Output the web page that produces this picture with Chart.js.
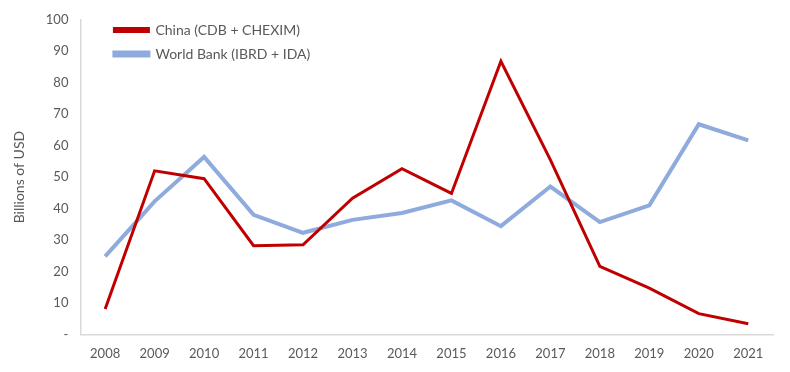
<!DOCTYPE html>
<html>
<head>
<meta charset="utf-8">
<script src="https://cdn.jsdelivr.net/npm/chart.js@4.4.0/dist/chart.umd.min.js"></script>
<style>
  html, body { margin: 0; padding: 0; background: #fff; }
  #wrap { width: 790px; height: 372px; }
</style>
</head>
<body>
<div id="wrap"><canvas id="myChart" width="790" height="372"></canvas></div>
<script>
var years = ['2008','2009','2010','2011','2012','2013','2014','2015','2016','2017','2018','2019','2020','2021']
var chinaValues = [8.1, 52, 49.5, 28.2, 28.5, 43.3, 52.7, 44.8, 86.8, 55.5, 21.6, 14.7, 6.6, 3.4]
var worldBankValues = [24.8, 42.3, 56.4, 38, 32.3, 36.4, 38.6, 42.6, 34.4, 47, 35.7, 41, 66.8, 61.7]

Chart.defaults.font.family = 'Lato, "Open Sans", sans-serif'
Chart.defaults.color = '#595959'

// nudge the legend into the upper-left corner of the plot, as in the original
var legendShift = {
    id: 'legendShift',
    afterLayout: function (c) {
        c.legend.left += 24
        c.legend.top += 13
    }
}

var chart = new Chart('myChart', {
    type: 'line',
    data: {
        labels: years,
        datasets: [{
            label: 'China (CDB + CHEXIM)',
            borderColor: '#C00000',
            backgroundColor: '#C00000',
            borderWidth: 3,
            pointRadius: 0,
            tension: 0,
            data: chinaValues
        }, {
            label: 'World Bank (IBRD + IDA)',
            borderColor: '#8FAADC',
            backgroundColor: '#8FAADC',
            borderWidth: 4,
            pointRadius: 0,
            tension: 0,
            data: worldBankValues
        }]
    },
    options: {
        responsive: false,
        animation: false,
        layout: { padding: { top: 1, right: 17, left: 7, bottom: -2 } },
        plugins: {
            tooltip: { enabled: false },
            legend: {
                position: 'chartArea',
                align: 'start',
                labels: {
                    boxWidth: 34,
                    boxHeight: 3,
                    padding: 10,
                    font: { size: 14 },
                    color: '#595959'
                }
            }
        },
        scales: {
            x: {
                offset: true,
                grid: { display: false, drawTicks: false },
                border: { color: '#D9D9D9', width: 1.5 },
                ticks: { font: { size: 13 }, padding: 12 }
            },
            y: {
                min: 0,
                max: 100,
                grid: { display: false, drawTicks: false },
                border: { color: '#D9D9D9', width: 1.5 },
                ticks: {
                    stepSize: 10,
                    font: { size: 13 },
                    padding: 12,
                    callback: function (v) { return v === 0 ? '-' : v }
                },
                title: {
                    display: true,
                    text: 'Billions of USD',
                    font: { size: 14 },
                    color: '#595959',
                    padding: { bottom: 6 }
                }
            }
        }
    },
    plugins: [legendShift]
})
</script>
</body>
</html>
